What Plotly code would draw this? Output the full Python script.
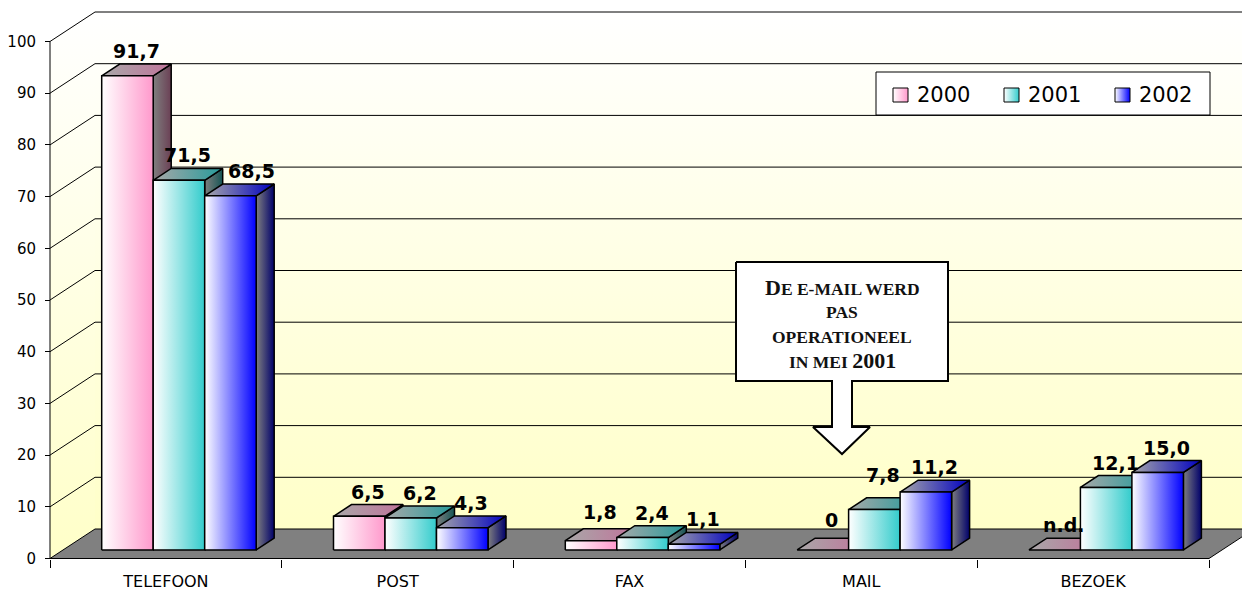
import plotly.graph_objects as go

# ---------------- data ----------------
categories = ["TELEFOON", "POST", "FAX", "MAIL", "BEZOEK"]
years = ["2000", "2001", "2002"]
v2000 = [91.7, 6.5, 1.8, 0.0, None]
v2001 = [71.5, 6.2, 2.4, 7.8, 12.1]
v2002 = [68.5, 4.3, 1.1, 11.2, 15.0]
missing_label = "n.d."
y_ticks = [0, 10, 20, 30, 40, 50, 60, 70, 80, 90, 100]
callout_lines = ["DE E-MAIL WERD", "PAS", "OPERATIONEEL", "IN MEI 2001"]

series = [v2000, v2001, v2002]
series_colors = ["#FF99CC", "#33CCCC", "#0000FF"]

# ---------------- geometry / style ----------------
W, H = 1250, 592
PAGE_OFF = 8          # browser body margin
PXU = 5.17            # pixels per value unit
Y0PX = 558.5          # window pixel row of value 0 on the front plane
X0, X1 = 50.0, 1209.0 # front plane extent (x axis units = window pixels)
DX, DV = 45.0, 29.5 / PXU   # full depth offset
F1, F2 = 0.29, 0.69         # bar front / back depth fractions
NC = len(categories)
CW = (X1 - X0) / NC
BW = 51.5
GAP = (CW - len(series) * BW) / 2
label_nudge = {(0, 2): (12, 0), (3, 1): (0, 10), (2, 0): (0, 4), (3, 0): (0, 5)}
SANS = "DejaVu Sans, Liberation Sans, Arial"


def pt(x, d, v):
    return x + d * DX, v + d * DV


def vy(py):
    return (Y0PX - py) / PXU


def shade(hexc, k):
    hexc = hexc.lstrip("#")
    r, g, b = (int(hexc[i:i + 2], 16) for i in (0, 2, 4))
    return "rgb(%d,%d,%d)" % (r * k, g * k, b * k)


def poly(points, grad, cs, lw=1.5, lc="black"):
    xs = [p[0] for p in points] + [points[0][0]]
    ys = [p[1] for p in points] + [points[0][1]]
    return go.Scatter(
        x=xs, y=ys, mode="lines", fill="toself",
        line=dict(color=lc, width=lw),
        fillgradient=dict(type=grad, colorscale=cs),
        hoverinfo="skip", showlegend=False,
    )


fig = go.Figure()

# walls
wall_cs = [[0, "#FFFFC8"], [1, "#FFFFFF"]]
fig.add_trace(poly([pt(X0, 0, 0), pt(X0, 1, 0), pt(X0, 1, 100), pt(X0, 0, 100)],
                   "vertical", wall_cs, lw=0, lc="rgba(0,0,0,0)"))
fig.add_trace(poly([pt(X0, 1, 0), pt(X1, 1, 0), pt(X1, 1, 100), pt(X0, 1, 100)],
                   "vertical", wall_cs, lw=0, lc="rgba(0,0,0,0)"))

# gridlines + axis line
gx, gy = [], []
for v in y_ticks[1:]:
    for p in (pt(X0, 0, v), pt(X0, 1, v), pt(X1, 1, v)):
        gx.append(p[0]); gy.append(p[1])
    gx.append(None); gy.append(None)
for p in (pt(X0, 0, 0), pt(X0, 0, 100)):
    gx.append(p[0]); gy.append(p[1])
fig.add_trace(go.Scatter(x=gx, y=gy, mode="lines", line=dict(color="black", width=1),
                         hoverinfo="skip", showlegend=False))

# floor
fx = [pt(X0, 0, 0), pt(X1, 0, 0), pt(X1, 1, 0), pt(X0, 1, 0), pt(X0, 0, 0)]
fig.add_trace(go.Scatter(x=[p[0] for p in fx], y=[p[1] for p in fx], mode="lines",
                         fill="toself", fillcolor="#808080",
                         line=dict(color="black", width=1),
                         hoverinfo="skip", showlegend=False))

# bars
annotations = []
for c in range(NC):
    for s, vals in enumerate(series):
        val = vals[c]
        h = 0.0 if val is None else val
        col = series_colors[s]
        xl = X0 + c * CW + GAP + s * BW
        xr = xl + BW
        front_cs = [[0, "#FFFFFF"], [1, col]]
        top_cs = [[0, shade("#FFFFFF", 0.66)], [1, shade(col, 0.76)]]
        side_cs = [[0, shade("#FFFFFF", 0.5)], [1, shade(col, 0.42)]]
        if h > 0:
            fig.add_trace(poly([pt(xr, F1, 0), pt(xr, F2, 0), pt(xr, F2, h), pt(xr, F1, h)],
                               "horizontal", side_cs))
        fig.add_trace(poly([pt(xl, F1, h), pt(xr, F1, h), pt(xr, F2, h), pt(xl, F2, h)],
                           "horizontal", top_cs))
        if h > 0:
            fig.add_trace(poly([pt(xl, F1, 0), pt(xr, F1, 0), pt(xr, F1, h), pt(xl, F1, h)],
                               "horizontal", front_cs))
        if val is None:
            txt = missing_label
        elif val == 0:
            txt = "0"
        else:
            txt = ("%.1f" % val).replace(".", ",")
        nx, ny = label_nudge.get((c, s), (0, 0))
        lx = (xl + xr) / 2 + (F1 + F2) / 2 * DX
        ly = h + F2 * DV
        annotations.append(dict(x=lx, y=ly, text="<b>%s</b>" % txt, showarrow=False,
                                xanchor="center", yanchor="middle", xshift=nx, yshift=13 + ny,
                                font=dict(family=SANS, size=19, color="black")))

# callout (text box with arrow)
cb = [(736, 262), (948, 262), (948, 381), (852, 381), (852, 427), (870, 427), (842, 454),
      (813, 427), (832, 427), (832, 381), (736, 381), (736, 262)]
fig.add_trace(go.Scatter(x=[p[0] for p in cb], y=[vy(p[1]) for p in cb], mode="lines",
                         fill="toself", fillcolor="white", line=dict(color="black", width=2),
                         hoverinfo="skip", showlegend=False))
big = '<span style="font-size:22px">%s</span>'
line_texts = [
    big % callout_lines[0][0] + callout_lines[0][1:],
    callout_lines[1],
    callout_lines[2],
    callout_lines[3].replace("2001", big % "2001"),
]
for i, (t, py) in enumerate(zip(line_texts, [287, 312, 337, 360])):
    annotations.append(dict(x=842, y=vy(py), text="<b>%s</b>" % t, showarrow=False,
                            xanchor="center", yanchor="middle",
                            font=dict(family="Liberation Serif, Times New Roman", size=17.5,
                                      color="#111111")))

# legend
lb = [(876, 72), (1210, 72), (1210, 115), (876, 115), (876, 72)]
fig.add_trace(go.Scatter(x=[p[0] for p in lb], y=[vy(p[1]) for p in lb], mode="lines",
                         fill="toself", fillcolor="white", line=dict(color="black", width=1),
                         hoverinfo="skip", showlegend=False))
for i, (yr, col) in enumerate(zip(years, series_colors)):
    sx = 893 + i * 111
    sq = [(sx, vy(88)), (sx + 15, vy(88)), (sx + 15, vy(102)), (sx, vy(102))]
    fig.add_trace(poly(sq, "horizontal", [[0, "#FFFFFF"], [1, col]], lw=1))
    annotations.append(dict(x=sx + 22, y=vy(95), text=yr, showarrow=False,
                            xanchor="left", yanchor="middle",
                            font=dict(family=SANS, size=21, color="black")))

centers = [X0 + CW * (i + 0.5) for i in range(NC)]
bounds = [X0 + CW * i for i in range(NC + 1)]

fig.update_layout(
    width=W, height=H,
    margin=dict(l=0, r=0, t=0, b=0, autoexpand=False),
    paper_bgcolor="white", plot_bgcolor="white",
    showlegend=False,
    annotations=annotations,
    xaxis=dict(range=[PAGE_OFF, W + PAGE_OFF], anchor="free",
               position=(H - (Y0PX - PAGE_OFF)) / H,
               showgrid=False, zeroline=False, showline=False,
               tickmode="array", tickvals=centers, ticktext=categories,
               ticks="", ticklabelstandoff=11,
               tickfont=dict(family=SANS, size=16, color="black"),
               minor=dict(tickmode="array", tickvals=bounds, ticks="outside", ticklen=8,
                          tickcolor="black", tickwidth=1),
               fixedrange=True),
    yaxis=dict(range=[vy(H + PAGE_OFF), vy(PAGE_OFF)], anchor="free",
               position=(X0 - PAGE_OFF) / W,
               showgrid=False, zeroline=False, showline=False,
               tickmode="array", tickvals=y_ticks, ticks="outside", ticklen=5,
               tickcolor="black", tickwidth=1, ticklabelstandoff=6,
               tickfont=dict(family=SANS, size=15, color="black"),
               fixedrange=True),
)

fig.write_html("out.html")
